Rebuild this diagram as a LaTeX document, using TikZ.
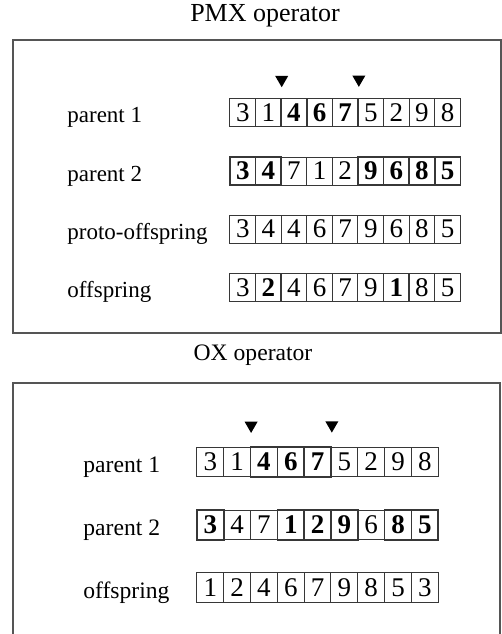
\documentclass[tikz,border=0pt]{standalone}
\usepackage{fontspec}
\setmainfont{Liberation Serif}
\usepackage{tikz}
\usetikzlibrary{positioning,shapes.geometric}
\definecolor{cellline}{RGB}{55,55,55}
\definecolor{panelline}{RGB}{85,85,85}
\tikzset{
  panel/.style={draw=panelline, line width=0.7pt},
  optitle/.style={font=\fontsize{13}{15}\selectfont},
  rowlabel/.style={anchor=base west, inner sep=0pt, font=\fontsize{11.5}{13}\selectfont},
  numcell/.style={draw=cellline, line width=0.5pt, minimum width=12.8pt, minimum height=14pt,
    inner sep=0pt, font=\fontsize{13.5}{15}\selectfont},
  keycell/.style={numcell, line width=0.85pt, font=\fontsize{13.5}{15}\selectfont\bfseries},
  cutmark/.style={regular polygon, regular polygon sides=3, shape border rotate=180,
    fill=black, inner sep=0pt, minimum size=7.5pt}
}

\begin{document}
\begin{tikzpicture}[x=0.5pt, y=-0.5pt]
\useasboundingbox (0,0) rectangle (502,634);

% PMX operator
\node[optitle] (pmx) at (265,16) {PMX operator};
\draw[panel] (13,40) rectangle (501,333);

\node[rowlabel] (pmxpa) at (67,122.5) {parent 1};
\foreach \d/\s [count=\i] in {3/numcell,1/numcell,4/keycell,6/keycell,7/keycell,5/numcell,2/numcell,9/numcell,8/numcell}
  \node[\s] (pmxpa-\i) at ({230+25.6*(\i-0.5)},112.5) {\d};
\node[rowlabel] (pmxpb) at (67,181) {parent 2};
\foreach \d/\s [count=\i] in {3/keycell,4/keycell,7/numcell,1/numcell,2/numcell,9/keycell,6/keycell,8/keycell,5/keycell}
  \node[\s] (pmxpb-\i) at ({230+25.6*(\i-0.5)},171) {\d};
\node[rowlabel] (pmxproto) at (67,239) {proto-offspring};
\foreach \d/\s [count=\i] in {3/numcell,4/numcell,4/numcell,6/numcell,7/numcell,9/numcell,6/numcell,8/numcell,5/numcell}
  \node[\s] (pmxproto-\i) at ({230+25.6*(\i-0.5)},229) {\d};
\node[rowlabel] (pmxoff) at (67,297.5) {offspring};
\foreach \d/\s [count=\i] in {3/numcell,2/keycell,4/numcell,6/numcell,7/numcell,9/numcell,1/keycell,8/numcell,5/numcell}
  \node[\s] (pmxoff-\i) at ({230+25.6*(\i-0.5)},287.5) {\d};

\node[cutmark, above=5pt of pmxpa-2.north east] (pmxcutA) {};
\node[cutmark, above=5pt of pmxpa-5.north east] (pmxcutB) {};

% OX operator
\node[optitle, font=\fontsize{11.8}{14}\selectfont] (ox) at (253,355) {OX operator};
\draw[panel] (13,634) |- (500,383) -- (500,634);

\begin{scope}[numcell/.append style={minimum width=13.4pt, minimum height=14.75pt},
  rowlabel/.append style={font=\fontsize{11.8}{13}\selectfont}]
\node[rowlabel] (oxpa) at (83,472.5) {parent 1};
\foreach \d/\s [count=\i] in {3/numcell,1/numcell,4/keycell,6/keycell,7/keycell,5/numcell,2/numcell,9/numcell,8/numcell}
  \node[\s] (oxpa-\i) at ({197+26.8*(\i-0.5)},462) {\d};
\node[rowlabel] (oxpb) at (83,535.5) {parent 2};
\foreach \d/\s [count=\i] in {3/keycell,4/numcell,7/numcell,1/keycell,2/keycell,9/keycell,6/numcell,8/keycell,5/keycell}
  \node[\s] (oxpb-\i) at ({197+26.8*(\i-0.5)},525) {\d};
\node[rowlabel] (oxoff) at (83,598) {offspring};
\foreach \d/\s [count=\i] in {1/numcell,2/numcell,4/numcell,6/numcell,7/numcell,9/numcell,8/numcell,5/numcell,3/numcell}
  \node[\s] (oxoff-\i) at ({197+26.8*(\i-0.5)},587.5) {\d};
\end{scope}

\node[cutmark, above=6.5pt of oxpa-2.north east] (oxcutA) {};
\node[cutmark, above=6.5pt of oxpa-5.north east] (oxcutB) {};
\end{tikzpicture}
\end{document}
